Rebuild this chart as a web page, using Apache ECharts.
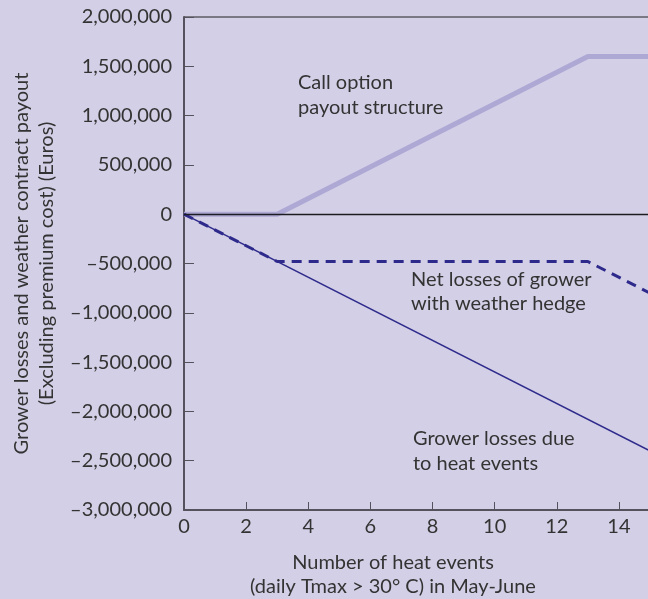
<!DOCTYPE html>
<html>
<head>
<meta charset="utf-8">
<script src="https://cdn.jsdelivr.net/npm/echarts@6/dist/echarts.min.js"></script>
<style>
  html, body { margin: 0; padding: 0; background: #d3cfe6; }
  #chart { width: 648px; height: 599px; }
</style>
</head>
<body>
<div id="chart"></div>
<script>
// heat events (x) and euro values
var heatEvents = [0, 3, 13, 15];
var callPayout = [0, 0, 1600000, 1600000];
var netLosses = [0, -480000, -480000, -800000];
var lossEvents = [0, 15];
var growerLosses = [0, -2400000];

var yTicks = { min: -3000000, max: 2000000, step: 500000 };
var xTicks = { min: 0, max: 15, step: 2 };

function pairs(xs, ys) {
    var out = [];
    for (var i = 0; i < xs.length; i++) {
        out.push([xs[i], ys[i]]);
    }
    return out;
}

function fmtEuro(v) {
    var s = Math.abs(v).toString().replace(/\B(?=(\d{3})+(?!\d))/g, ',');
    return v < 0 ? '\u2013' + s : s;
}

var textColor = '#333333';
var fontFam = 'Lato, "Open Sans", sans-serif';
var fontCss = '20px ' + fontFam;

var myChart = echarts.init(document.getElementById('chart'));
var option = {
    backgroundColor: '#d3cfe6',
    animation: false,
    textStyle: { fontFamily: fontFam },
    grid: {
        left: 184, top: 17, width: 466, height: 493,
        outerBoundsMode: 'none',
        containLabel: false,
        show: true, borderColor: '#222222', borderWidth: 1,
        backgroundColor: 'transparent'
    },
    xAxis: {
        type: 'value',
        min: xTicks.min, max: xTicks.max, interval: xTicks.step,
        axisLine: { show: true, onZero: false, lineStyle: { color: '#55525e', width: 2 } },
        axisTick: { inside: true, length: 8, lineStyle: { color: '#55525e', width: 1 } },
        axisLabel: { color: textColor, fontSize: 20, margin: 7, showMaxLabel: false, fontFamily: fontFam },
        splitLine: { show: false }
    },
    yAxis: {
        type: 'value',
        min: yTicks.min, max: yTicks.max, interval: yTicks.step,
        name: 'Grower losses and weather contract payout\n(Excluding premium cost) (Euros)',
        nameLocation: 'middle',
        nameGap: 125,
        nameTextStyle: { color: textColor, fontSize: 20, lineHeight: 25, fontFamily: fontFam },
        axisLine: { show: true, onZero: false, lineStyle: { color: '#55525e', width: 2 } },
        axisTick: { inside: true, length: 10, lineStyle: { color: '#55525e', width: 1 } },
        axisLabel: { color: textColor, fontSize: 20, margin: 12, formatter: fmtEuro, fontFamily: fontFam },
        splitLine: { show: false }
    },
    series: [
        {
            name: 'Call option payout structure',
            type: 'line',
            data: pairs(heatEvents, callPayout),
            symbol: 'none',
            lineStyle: { color: '#aea8d5', width: 5 },
            z: 2,
            markLine: {
                silent: true,
                symbol: 'none',
                label: { show: false },
                lineStyle: { color: '#1c1c22', width: 1.3, type: 'solid' },
                data: [{ yAxis: 0 }]
            }
        },
        {
            name: 'Grower losses due to heat events',
            type: 'line',
            data: pairs(lossEvents, growerLosses),
            symbol: 'none',
            lineStyle: { color: '#2e2a8c', width: 1.5 },
            z: 3
        },
        {
            name: 'Net losses of grower with weather hedge',
            type: 'line',
            data: pairs(heatEvents, netLosses),
            symbol: 'none',
            lineStyle: { color: '#2e2a8c', width: 3, type: [10, 7] },
            z: 4
        }
    ],
    graphic: [
        { type: 'text', left: 298, top: 70, style: { text: 'Call option\npayout structure', fill: textColor, font: fontCss, lineHeight: 25 } },
        { type: 'text', left: 411, top: 268, style: { text: 'Net losses of grower\nwith weather hedge', fill: textColor, font: fontCss, lineHeight: 24 } },
        { type: 'text', left: 413, top: 426, style: { text: 'Grower losses due\nto heat events', fill: textColor, font: fontCss, lineHeight: 25 } },
        { type: 'text', x: 393, y: 551, style: { text: 'Number of heat events\n(daily Tmax > 30\u00b0 C) in May-June', fill: textColor, font: fontCss, lineHeight: 24, align: 'center', verticalAlign: 'top' } }
    ]
};
myChart.setOption(option);
</script>
</body>
</html>
